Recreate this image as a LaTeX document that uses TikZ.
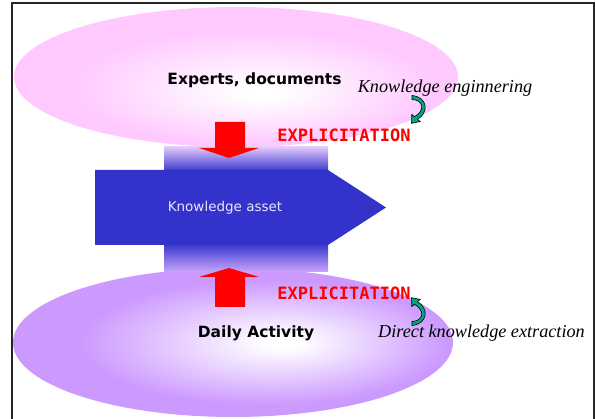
\documentclass[tikz,border=0pt]{standalone}
\usepackage{fontspec}
\setmainfont{Liberation Serif}
\setsansfont{DejaVu Sans}
\setmonofont{DejaVu Sans Mono}
\usetikzlibrary{shapes.geometric}
\definecolor{lobepink}{RGB}{255,200,255}
\definecolor{lobeviolet}{RGB}{204,153,255}
\definecolor{asset}{RGB}{51,51,204}
\definecolor{bandtop}{RGB}{225,200,250}
\definecolor{bandbot}{RGB}{200,165,250}
\definecolor{push}{RGB}{255,0,0}
\definecolor{twist}{RGB}{0,166,126}
\pgfdeclareradialshading{toplobe}{\pgfpoint{3bp}{-6bp}}{color(0bp)=(white); color(2bp)=(white); color(21bp)=(lobepink); color(50bp)=(lobepink)}
\pgfdeclareradialshading{botlobe}{\pgfpoint{6bp}{0bp}}{color(0bp)=(white); color(2bp)=(white); color(21bp)=(lobeviolet); color(50bp)=(lobeviolet)}

\begin{document}
\begin{tikzpicture}[
  x=1pt, y=-1pt,
  lobe/.style={ellipse, inner sep=0pt},
  label/.style={font=\sffamily\bfseries\fontsize{15.5}{18}\selectfont},
  tag/.style={text=push, font=\ttfamily\bfseries\fontsize{17}{20}\selectfont},
  note/.style={font=\rmfamily\itshape\fontsize{18.2}{21}\selectfont},
  twist/.pic={\filldraw[fill=twist, draw=black, line width=0.6pt] (0,-2) .. controls (16,-0.5) and (17,15.5) .. (5.5,21.8) -- (8.2,24.1) -- (-0.5,25.8) -- (-0.2,16.9) -- (2.5,19.2) .. controls (13,13.5) and (12,2.5) .. (0,2) -- cycle;},
]
  \useasboundingbox (0,0) rectangle (595,419);
  \draw[black!85, line width=1.2pt] (12,425) -- (12,3) -- (594,3) -- (594,425);
  % the two sources
  \node[lobe, minimum width=444pt, minimum height=140pt, shading=toplobe] (experts) at (236,77) {};
  \node[lobe, minimum width=440pt, minimum height=149pt, shading=botlobe] (daily) at (233,342.5) {};
  % band behind the asset
  \shade[top color=bandtop, bottom color=asset] (164,147) rectangle (328,172);
  \shade[top color=asset, bottom color=bandbot] (164,243) rectangle (328,272);
  \fill[asset] (95,170) -- (328,170) -- (386,207.5) -- (328,245) -- (95,245) -- cycle;
  \node[text={rgb,255:red,230;green,230;blue,255}, font=\sffamily\fontsize{13.5}{16}\selectfont] (asset) at (225,208) {Knowledge asset};
  % explicitation arrows
  \fill[push] (215,122) -- (245,122) -- (245,148) -- (259,148) -- (229,158) -- (199,148) -- (215,148) -- cycle;
  \fill[push] (215,307) -- (245,307) -- (245,277) -- (259,277) -- (229,268) -- (199,277) -- (215,277) -- cycle;
  \node[label] (expertstext) at (254.5,80) {Experts, documents};
  \node[label] (dailytext) at (256,333) {Daily Activity};
  \node[tag] (explup) at (344,135) {EXPLICITATION};
  \node[tag] (expldown) at (344,293) {EXPLICITATION};
  \node[note] (engineering) at (445,88) {Knowledge enginnering};
  \node[note] (extraction) at (481.5,333) {Direct knowledge extraction};
  \pic at (412,97.5) {twist};
  \pic[yscale=-1] at (412,323.5) {twist};
\end{tikzpicture}
\end{document}
